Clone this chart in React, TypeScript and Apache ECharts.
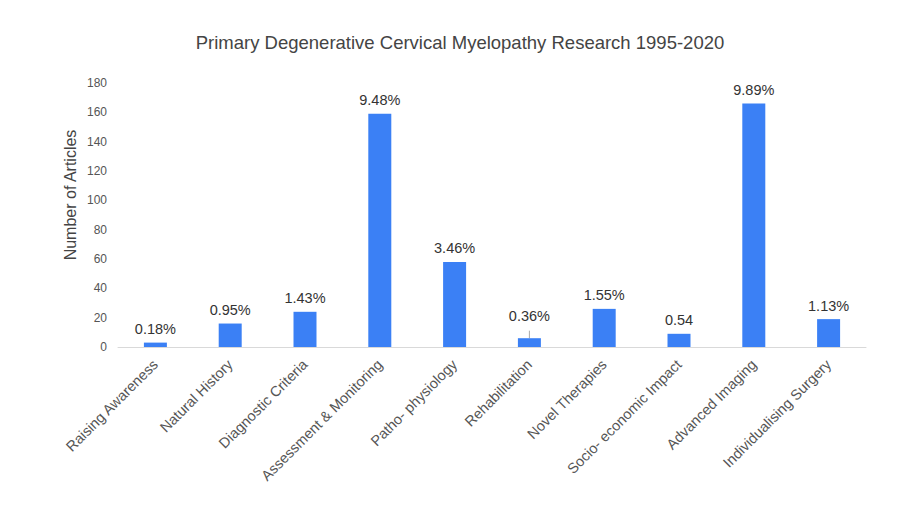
import React, { useEffect, useRef } from "react";
import * as echarts from "echarts";

const categories = [
  "Raising Awareness",
  "Natural History",
  "Diagnostic Criteria",
  "Assessment & Monitoring",
  "Patho- physiology",
  "Rehabilitation",
  "Novel Therapies",
  "Socio- economic Impact",
  "Advanced Imaging",
  "Individualising Surgery",
];
const articleCounts = [3, 16, 24, 159, 58, 6, 26, 9, 166, 19];
const barLabels = ["0.18%", "0.95%", "1.43%", "9.48%", "3.46%", "0.36%", "1.55%", "0.54", "9.89%", "1.13%"];
const FONT = "'Liberation Sans', Arial, sans-serif";

export default function App() {
  const ref = useRef<HTMLDivElement>(null);
  useEffect(() => {
    if (!ref.current) return;
    const chart = echarts.init(ref.current, undefined, { renderer: "svg" });
    chart.setOption({
      animation: false,
      backgroundColor: "#ffffff",
      textStyle: { fontFamily: FONT },
      title: {
        text: "Primary Degenerative Cervical Myelopathy Research 1995-2020",
        left: 455,
        textAlign: "center",
        top: 28,
        textStyle: { fontFamily: FONT, fontSize: 18.5, fontWeight: "normal", color: "#444" },
      },
      graphic: [
        {
          type: "text",
          x: 70,
          y: 195,
          rotation: Math.PI / 2,
          style: {
            text: "Number of Articles",
            fontFamily: FONT,
            fontSize: 16,
            fill: "#444",
            align: "center",
            verticalAlign: "middle",
          },
        },
      ],
      grid: { left: 118, right: 34, top: 83, bottom: 159 },
      xAxis: {
        type: "category",
        data: categories,
        axisLine: { lineStyle: { color: "#d9d9d9" } },
        axisTick: { show: false },
        axisLabel: {
          interval: 0,
          rotate: 45,
          fontFamily: FONT,
          fontSize: 14.5,
          color: "#555",
          margin: 15,
        },
      },
      yAxis: {
        type: "value",
        min: 0,
        max: 180,
        interval: 20,
        axisLine: { show: false },
        axisTick: { show: false },
        splitLine: { show: false },
        axisLabel: { fontFamily: FONT, fontSize: 12, color: "#555", margin: 11 },
      },
      series: [
        {
          type: "bar",
          barWidth: 23,
          itemStyle: { color: "#3b80f5" },
          data: articleCounts.map((v, i) =>
            i === 5
              ? {
                  value: v,
                  label: { offset: [0, -9] },
                  labelLine: { show: true, lineStyle: { color: "#aaa", width: 1 } },
                }
              : v
          ),
          label: {
            show: true,
            position: "top",
            distance: 6,
            fontFamily: FONT,
            fontSize: 14.5,
            color: "#333",
            formatter: (p: any) => barLabels[p.dataIndex],
          },
        },
      ],
    });
    return () => chart.dispose();
  }, []);
  return (
    <div
      ref={ref}
      style={{ position: "absolute", left: 0, top: 0, width: 900, height: 506 }}
    />
  );
}
